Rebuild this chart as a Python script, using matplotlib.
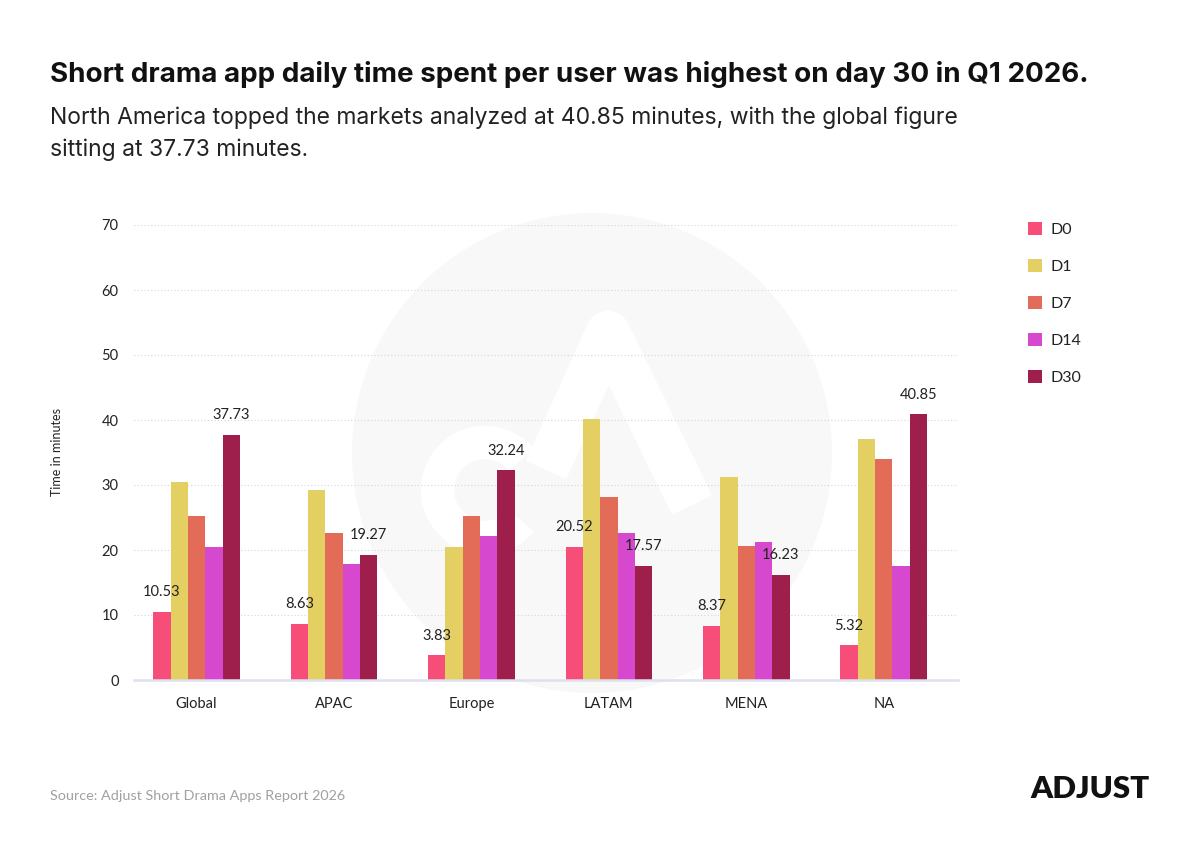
import matplotlib
matplotlib.use("Agg")
import matplotlib.pyplot as plt
from matplotlib.patches import Circle, Patch
from matplotlib.lines import Line2D
from matplotlib.patches import Arc
from matplotlib.transforms import Affine2D
import numpy as np

plt.rcParams['font.family'] = ['Lato', 'DejaVu Sans']
HEAD = ['Inter', 'Lato', 'DejaVu Sans']

# ---- data ----
regions = ["Global", "APAC", "Europe", "LATAM", "MENA", "NA"]
series = ["D0", "D1", "D7", "D14", "D30"]
d0 = [10.53, 8.63, 3.83, 20.52, 8.37, 5.32]
d1 = [30.4, 29.3, 20.4, 40.2, 31.3, 37.1]
d7 = [25.2, 22.6, 25.3, 28.1, 20.6, 34.0]
d14 = [20.4, 17.9, 22.2, 22.6, 21.2, 17.6]
d30 = [37.73, 19.27, 32.24, 17.57, 16.23, 40.85]
values = [d0, d1, d7, d14, d30]
colors = ["#F74D79", "#E4CF62", "#E36C59", "#D649CF", "#9E1F4C"]
labelled = ["D0", "D30"]
yticks = [0, 10, 20, 30, 40, 50, 60, 70]

title = "Short drama app daily time spent per user was highest on day 30 in Q1 2026."
sub1 = "North America topped the markets analyzed at 40.85 minutes, with the global figure"
sub2 = "sitting at 37.73 minutes."
source = "Source: Adjust Short Drama Apps Report 2026"

W, H = 1200, 850
fig = plt.figure(figsize=(W / 100, H / 100), dpi=100)
fig.patch.set_facecolor("white")

# pixel transform (origin top-left)
T = Affine2D().scale(1 / W, -1 / H).translate(0, 1) + fig.transFigure

# watermark
circ = Circle((592, 453), 240, transform=T, facecolor="#F8F8F8", edgecolor="none", zorder=-2)
fig.add_artist(circ)
lam = Line2D([546, 608, 692], [470, 333, 505], transform=T, color="white", lw=32,
             solid_joinstyle="round", solid_capstyle="butt", zorder=-1)
fig.add_artist(lam)
bowl = Arc((485, 490), 95, 95, angle=0, theta1=40, theta2=320, transform=T,
           color="white", lw=24, zorder=-1)
fig.add_artist(bowl)

ax = fig.add_axes([134 / W, 1 - 680 / H, 824 / W, (680 - 225) / H])
ax.patch.set_alpha(0)

x = np.arange(len(regions))
bw = 0.126
for i, (name, vals, col) in enumerate(zip(series, values, colors)):
    xs = x + (i - 2) * bw
    ax.bar(xs, vals, width=bw, color=col, label=name, zorder=3, linewidth=0)
    if name in labelled:
        for xi, v in zip(xs, vals):
            ax.annotate(f"{v:.2f}", (xi, v), xytext=(0, 9), textcoords="offset points",
                        ha="center", va="bottom", fontsize=10.5, color="#222222", zorder=4)

ax.set_xlim(-0.455, 5.54)
ax.set_ylim(0, 70)
ax.set_yticks(yticks)
ax.set_xticks(x)
ax.set_xticklabels(regions)
ax.tick_params(axis="both", length=0, labelsize=10.5, colors="#222222")
ax.tick_params(axis="y", pad=11)
ax.tick_params(axis="x", pad=12)
ax.yaxis.grid(True, linestyle=(0, (1, 2)), color="#d6d6d6", linewidth=0.8, zorder=0)
ax.set_axisbelow(True)
for s in ["top", "right", "left"]:
    ax.spines[s].set_visible(False)
ax.spines["bottom"].set_color("#dde0f0")
ax.spines["bottom"].set_linewidth(1.8)
ax.spines["bottom"].set_zorder(5)

fig.text(57 / W, 1 - 452 / H, "Time in minutes", rotation=90, ha="center", va="center",
         fontsize=9, color="#222222")

handles = [Patch(facecolor=c, edgecolor="none") for c in colors]
fig.legend(handles, series, loc="upper left", bbox_to_anchor=(1028 / W, 1 - 222 / H),
           frameon=False, fontsize=11.5, handlelength=0.88, handleheight=0.88,
           handletextpad=0.55, labelspacing=1.38, borderpad=0, borderaxespad=0,
           labelcolor="#222222")

fig.text(50 / W, 1 - 75 / H, title, fontsize=20.0, weight="bold", color="#111111",
         va="center", family=HEAD)
fig.text(50 / W, 1 - 118 / H, sub1, fontsize=16.5, color="#222222", va="center", family=HEAD)
fig.text(50 / W, 1 - 150 / H, sub2, fontsize=16.5, color="#222222", va="center", family=HEAD)
fig.text(50 / W, 1 - 796 / H, source, fontsize=10.4, color="#a0a0a0", va="center")
fig.text(1150 / W, 1 - 789 / H, "ADJUST", fontsize=22.5, weight="heavy", color="#111111",
         ha="right", va="center")

fig.savefig("out.png", dpi=100)
